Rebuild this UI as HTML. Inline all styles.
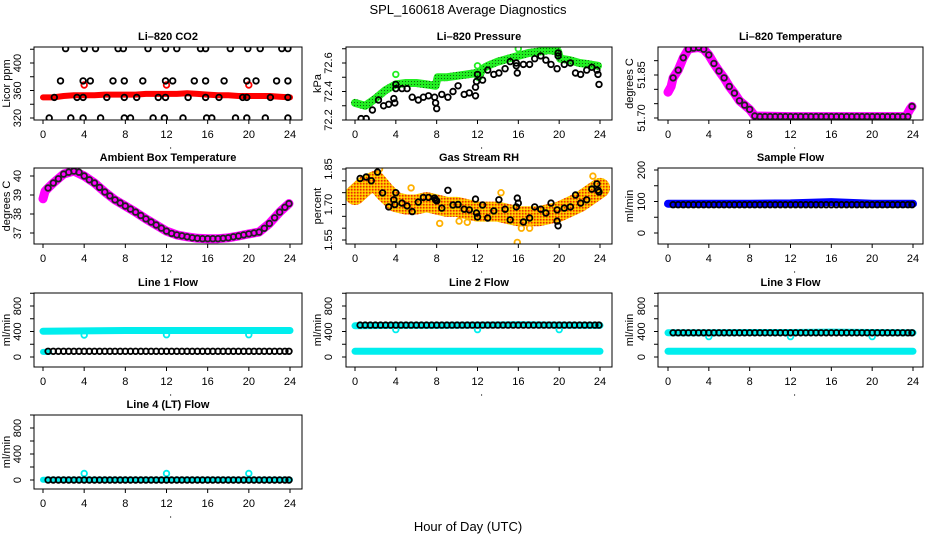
<!DOCTYPE html>
<html><head><meta charset="utf-8">
<style>
body{margin:0;background:#fff}
svg{display:block;font-family:"Liberation Sans",Arial,sans-serif}
</style></head>
<body>
<svg id="chart" width="936" height="540" viewBox="0 0 936 540">
<defs>
<pattern id="rhPat" width="3" height="3" patternUnits="userSpaceOnUse"><rect width="3" height="3" fill="#ffb000"/><rect width="1.5" height="1.5" fill="#e83000"/><rect x="1.5" y="1.5" width="1.5" height="1.5" fill="#ffe000"/></pattern>
<pattern id="prPat" width="3" height="3" patternUnits="userSpaceOnUse"><rect width="3" height="3" fill="#22ee22"/><rect width="1" height="1" fill="#116611"/></pattern>
</defs>
<text x="468" y="14" text-anchor="middle" font-size="13">SPL_160618  Average Diagnostics</text>
<text x="468" y="531" text-anchor="middle" font-size="13">Hour of Day (UTC)</text>
</svg>
<script>
// ---------- data ----------
const halfX = [0.5,1,1.5,2,2.5,3,3.5,4,4.5,5,5.5,6,6.5,7,7.5,8,8.5,9,9.5,10,10.5,11,11.5,12,12.5,13,13.5,14,14.5,15,15.5,16,16.5,17,17.5,18,18.5,19,19.5,20,20.5,21,21.5,22,22.5,23,23.5,23.9];
const xTicks = [0,4,8,12,16,20,24];

// CO2
const co2RedX = [0,1,2,3,4,5,6,7,8,9,10,11,12,13,14,15,16,17,18,19,20,21,22,23,24];
const co2RedY = [350,350,352,353,353,353,354,354,354,354,355,355,355,355,356,355,354,353,353,352,352,352,352,351,350];
const co2RedOutX = [4,12,20];
const co2RedOutY = [368,368,368];
const co2BlkX = [2.2,4,5.1,7.3,7.8,10.2,11.9,13,15.3,15.8,18.2,19.9,21.1,23.2,23.8, 1.7,3.9,4.6,6.8,7.9,9.7,11.9,12.6,14.7,15.8,17.6,19.8,20.7,22.7,23.8, 1.1,3.3,3.9,6.2,7.9,9.1,11.2,11.9,14.1,15.8,17.1,19.4,19.8,22.1,23.8, 0.6,2.7,3.9,5.6,7.9,8.5,10.7,11.8,13.6,15.9,16.4,18.7,19.8,21.6,23.8];
const co2BlkY = [421,421,421,421,421,421,421,421,421,421,421,421,421,421,421, 374,374,374,374,374,374,374,374,374,374,374,374,374,374,374, 350,350,350,350,350,350,350,350,350,350,350,350,350,350,350, 320,320,320,320,320,320,320,320,320,320,320,320,320,320,320];

// Pressure
const prBandX = [0,1,2,3,4,5,6,7,7.9,8.1,9,10,11,11.9,12.1,12.5,13,14,15,16,17,18,19,19.9,20.1,21,22,23,23.8];
const prBandY = [72.32,72.30,72.35,72.41,72.45,72.46,72.46,72.45,72.44,72.50,72.50,72.51,72.52,72.53,72.50,72.56,72.58,72.61,72.63,72.65,72.67,72.68,72.69,72.68,72.63,72.62,72.60,72.59,72.58];
const prOutX = [4,12,16,20];
const prOutY = [72.52,72.58,72.70,72.73];
const prBlkX = [0.6,1.1,1.7,2.3,2.8,3.3,3.8,3.9,4,4,4.6,5.1,5.6,6.2,6.7,7.2,7.8,7.9,8,8.5,9.1,9.6,10.1,10.7,11.2,11.8,11.8,11.9,12.0,12.5,13,13.6,14.1,14.7,15.2,15.8,15.8,15.9,16.5,17.1,17.6,18.2,18.7,19.2,19.8,19.9,19.9,20.5,21.1,21.6,22.1,22.7,23.2,23.7,23.8,23.9];
const prBlkY = [72.21,72.21,72.27,72.34,72.30,72.31,72.35,72.32,72.45,72.42,72.42,72.42,72.36,72.34,72.36,72.37,72.36,72.32,72.28,72.38,72.36,72.40,72.44,72.38,72.39,72.37,72.43,72.47,72.52,72.48,72.55,72.52,72.53,72.56,72.61,72.60,72.58,72.53,72.59,72.59,72.63,72.65,72.62,72.59,72.56,72.65,72.67,72.59,72.60,72.53,72.52,72.55,72.57,72.55,72.52,72.45];

// Li-820 temperature
const tBandX = [0,0.3,0.5,1,1.5,2,2.5,3,3.5,4,4.5,5,5.5,6,6.5,7,7.5,8,8.5,12,16,20,23.3,23.7,23.9];
const tBandY = [51.79,51.81,51.84,51.867,51.91,51.94,51.944,51.946,51.94,51.92,51.89,51.864,51.84,51.81,51.787,51.76,51.745,51.73,51.707,51.705,51.705,51.705,51.705,51.73,51.74];
const tBlkY = [51.84,51.867,51.91,51.94,51.944,51.946,51.94,51.92,51.89,51.864,51.84,51.81,51.787,51.76,51.745,51.73,51.707,51.705,51.705,51.705,51.705,51.705,51.705,51.705,51.705,51.705,51.705,51.705,51.705,51.705,51.705,51.705,51.705,51.705,51.705,51.705,51.705,51.705,51.705,51.705,51.705,51.705,51.705,51.705,51.705,51.705,51.705,51.74];

// Ambient
const aBandX = [0,0.2,0.5,1,2,3,4,5,6,7,8,9,10,11,12,13,14,15,16,17,18,19,20,21,22,23,23.9];
const aBandY = [38.8,39.2,39.37,39.63,40.1,40.26,40.0,39.63,39.16,38.74,38.42,38.1,37.74,37.42,37.1,36.9,36.8,36.72,36.7,36.7,36.75,36.84,36.95,37.05,37.5,38.1,38.55];
const aBlkY = [39.37,39.63,39.85,40.1,40.2,40.26,40.2,40.0,39.8,39.63,39.4,39.16,38.95,38.74,38.58,38.42,38.26,38.1,37.92,37.74,37.58,37.42,37.26,37.1,36.98,36.9,36.85,36.8,36.75,36.72,36.7,36.7,36.7,36.7,36.72,36.75,36.8,36.84,36.9,36.95,37.0,37.05,37.25,37.5,37.8,38.1,38.35,38.55];

// RH
const rhBandX = [0,1,2,3,4,5,6,7,8,9,10,11,12,13,14,15,16,17,18,19,20,21,22,23,24];
const rhBandY = [1.74,1.78,1.80,1.75,1.71,1.70,1.70,1.71,1.70,1.69,1.69,1.68,1.67,1.67,1.67,1.66,1.65,1.65,1.65,1.66,1.67,1.69,1.71,1.74,1.77];
const rhOutX = [5.5,8.3,15.9,16.3,17.1,23.3,14.3,10.2,11,2.4];
const rhOutY = [1.77,1.62,1.54,1.60,1.60,1.82,1.75,1.63,1.625,1.85];
const rhBlkX = [0.5,1.1,1.6,2.2,2.7,3.3,3.8,3.9,4,4.6,5.1,5.6,6.2,6.7,7.2,7.8,7.9,8,8.5,9.1,9.6,10.1,10.7,11.2,11.8,11.9,12,12.5,13,13.6,14.1,14.7,15.2,15.8,15.9,16,16.5,17.1,17.6,18.2,18.7,19.2,19.8,19.8,19.9,20.5,21.1,21.6,22.1,22.7,23.2,23.7,23.8,23.9];
const rhBlkY = [1.81,1.816,1.80,1.837,1.749,1.69,1.72,1.70,1.75,1.706,1.694,1.67,1.71,1.73,1.73,1.727,1.72,1.715,1.685,1.76,1.698,1.70,1.68,1.677,1.723,1.664,1.647,1.698,1.643,1.673,1.72,1.68,1.635,1.69,1.727,1.706,1.626,1.643,1.69,1.68,1.664,1.706,1.677,1.63,1.61,1.685,1.69,1.74,1.706,1.72,1.765,1.787,1.76,1.753];

// Flows
const fBandX = [0,4,8,12,16,20,24];
const sfBandY = [93,93,93,94,98,93,93];
const sfBlkY = [90,90,90,90,90,90,90,90,90,90,90,90,90,90,90,90,90,90,90,90,90,90,90,90,90,90,90,90,90,90,90,90,90,90,90,90,90,90,90,90,90,90,90,90,90,90,90,90];
const l1UpY = [405,410,415,415,415,415,415];
const l1LowY = [80,80,80,80,80,80,80];
const l1BlkY = [90,90,90,90,90,90,90,90,90,90,90,90,90,90,90,90,90,90,90,90,90,90,90,90,90,90,90,90,90,90,90,90,90,90,90,90,90,90,90,90,90,90,90,90,90,90,90,90];
const l2UpY = [490,495,495,500,505,500,495];
const l2LowY = [90,90,90,90,90,90,90];
const l2BlkY = [500,500,500,500,500,500,500,500,500,500,500,500,500,500,500,500,500,500,500,500,500,500,500,500,500,500,500,500,500,500,500,500,500,500,500,500,500,500,500,500,500,500,500,500,500,500,500,500];
const l3UpY = [380,380,385,385,390,385,380];
const l3LowY = [90,90,90,90,90,90,90];
const l3BlkY = [380,380,380,380,380,380,380,380,380,380,380,380,380,380,380,380,380,380,380,380,380,380,380,380,380,380,380,380,380,380,380,380,380,380,380,380,380,380,380,380,380,380,380,380,380,380,380,380];
const l4UpY = [5,5,5,5,5,5,5];
const l4BlkY = [0,0,0,0,0,0,0,0,0,0,0,0,0,0,0,0,0,0,0,0,0,0,0,0,0,0,0,0,0,0,0,0,0,0,0,0,0,0,0,0,0,0,0,0,0,0,0,0];
const dipX = [4,12,20];
const l1DipY = [345,350,350];
const l2DipY = [430,430,430];
const l3DipY = [320,320,320];
const l4DipY = [100,100,100];

// ---------- rendering ----------
const svg = document.getElementById('chart');
const NS = 'http://www.w3.org/2000/svg';
function mk(tag, attrs, parent){
  const e = document.createElementNS(NS, tag);
  for (const k in attrs) e.setAttribute(k, attrs[k]);
  (parent||svg).appendChild(e);
  return e;
}
const cols = [{l:34,r:302,x0:43,x24:290,yl:10,tl:21},{l:346,r:612,x0:355,x24:600,yl:321,tl:332},{l:658,r:923,x0:668,x24:913,yl:633,tl:645}];
const rows = [{t:47,b:120},{t:168,b:244},{t:293,b:367},{t:415,b:489}];

function panel(p){
  const c = cols[p.col], rw = rows[p.row];
  const g = mk('g',{});
  
  
  const xs = v => c.x0 + (c.x24 - c.x0) * v / 24;
  const ys = v => p.ym[1] + (v - p.ym[0]) * (p.ym[3] - p.ym[1]) / (p.ym[2] - p.ym[0]);
  const clip = mk('clipPath',{id:'clip'+p.name}, g);
  mk('rect',{x:c.l,y:rw.t,width:c.r-c.l,height:rw.b-rw.t}, clip);
  const plot = mk('g',{'clip-path':'url(#clip'+p.name+')'}, g);
  
  
  p.series.forEach(s => {
    if (s.type === 'band'){
      const d = s.x.map((v,i)=>(i?'L':'M')+xs(v).toFixed(1)+','+ys(s.y[i]).toFixed(1)).join('');
      const e = mk('path',{d:d,fill:'none',stroke:s.color,'stroke-width':s.w,'stroke-linejoin':'round','stroke-linecap':'round'}, plot);
      
      
    } else {
      const sg = mk('g',{}, plot);
      
      
      s.x.forEach((v,i)=>{
        const e = mk('circle',{cx:xs(v).toFixed(1),cy:ys(s.y[i]).toFixed(1),r:s.r||2.8,fill:'none',stroke:s.color,'stroke-width':s.sw||1.8}, sg);
        
        
      });
    }
  });
  const box = mk('rect',{x:c.l,y:rw.t,width:c.r-c.l,height:rw.b-rw.t,fill:'none',stroke:'#000','stroke-width':1}, g);
  
  
  const t = mk('text',{x:(c.l+c.r)/2,y:rw.t-7,'text-anchor':'middle','font-size':11,'font-weight':'bold'}, g);
  t.textContent = p.title;
  
  
  const xa = mk('g',{}, g);
  
  
  mk('line',{x1:xs(0),x2:xs(24),y1:rw.b,y2:rw.b,stroke:'#000'}, xa);
  xTicks.forEach(v=>{
    mk('line',{x1:xs(v),x2:xs(v),y1:rw.b,y2:rw.b+4,stroke:'#000'}, xa);
    const tx = mk('text',{x:xs(v),y:rw.b+18,'text-anchor':'middle','font-size':11}, xa);
    tx.textContent = v;
    
    
  });
  mk('circle',{cx:xs(12.4),cy:rw.b+28,r:0.6,fill:'#000'}, xa);
  const ya = mk('g',{}, g);
  
  
  mk('line',{x1:c.l,x2:c.l,y1:ys(p.yt[0]),y2:ys(p.yt[p.yt.length-1]),stroke:'#000'}, ya);
  p.yt.forEach(v=>{
    mk('line',{x1:c.l-4,x2:c.l,y1:ys(v),y2:ys(v),stroke:'#000'}, ya);
  });
  p.yl.forEach(v=>{
    const y = ys(v);
    const tx = mk('text',{x:c.tl,y:y,'text-anchor':'middle','font-size':11,transform:'rotate(-90 '+c.tl+' '+y+')'}, ya);
    tx.textContent = p.fmt ? v.toFixed(p.fmt) : v;
    
    
  });
  const cy = (rw.t+rw.b)/2;
  const yt = mk('text',{x:c.yl,y:cy,'text-anchor':'middle','font-size':11,transform:'rotate(-90 '+c.yl+' '+cy+')'}, g);
  yt.textContent = p.ylab;
  
  
}

const K='#000', CY='#00eeee';
panel({name:'co2-panel',col:0,row:0,title:'Li\u2013820 CO2',ylab:'Licor ppm',ym:[320,118,400,63],yt:[320,340,360,380,400,420],yl:[320,360,400],series:[
  {type:'band',name:'co2-red-band',x:co2RedX,y:co2RedY,color:'#ff0000',w:6},
  {type:'pts',name:'co2-red-outliers',x:co2RedOutX,y:co2RedOutY,color:'#ff0000'},
  {type:'pts',name:'co2-black-points',x:co2BlkX,y:co2BlkY,color:K}]});
panel({name:'pressure-panel',col:1,row:0,title:'Li\u2013820 Pressure',ylab:'kPa',ym:[72.2,120,72.6,63],yt:[72.2,72.3,72.4,72.5,72.6,72.7],yl:[72.2,72.4,72.6],fmt:1,series:[
  {type:'band',name:'pressure-green-band',x:prBandX,y:prBandY,color:'url(#prPat)',w:8},
  {type:'pts',name:'pressure-green-outliers',x:prOutX,y:prOutY,color:'#22ee22'},
  {type:'pts',name:'pressure-black-points',x:prBlkX,y:prBlkY,color:K}]});
panel({name:'temperature-panel',col:2,row:0,title:'Li\u2013820 Temperature',ylab:'degrees C',ym:[51.70,118,51.85,75],yt:[51.70,51.75,51.80,51.85,51.90],yl:[51.70,51.85],fmt:2,series:[
  {type:'band',name:'temperature-magenta-band',x:tBandX,y:tBandY,color:'#ff00ff',w:9},
  {type:'pts',name:'temperature-black-points',x:halfX,y:tBlkY,color:'#222'}]});
panel({name:'ambient-panel',col:0,row:1,title:'Ambient Box Temperature',ylab:'degrees C',ym:[37,233,40,176],yt:[37,38,39,40],yl:[37,38,39,40],series:[
  {type:'band',name:'ambient-magenta-band',x:aBandX,y:aBandY,color:'#ff00ff',w:9},
  {type:'pts',name:'ambient-black-points',x:halfX,y:aBlkY,color:'#222'}]});
panel({name:'rh-panel',col:1,row:1,title:'Gas Stream RH',ylab:'percent',ym:[1.55,240,1.85,169],yt:[1.55,1.60,1.65,1.70,1.75,1.80,1.85],yl:[1.55,1.70,1.85],fmt:2,series:[
  {type:'band',name:'rh-orange-band',x:rhBandX,y:rhBandY,color:'url(#rhPat)',w:20},
  {type:'pts',name:'rh-orange-outliers',x:rhOutX,y:rhOutY,color:'#ffb000'},
  {type:'pts',name:'rh-black-points',x:rhBlkX,y:rhBlkY,color:K}]});
panel({name:'sample-flow-panel',col:2,row:1,title:'Sample Flow',ylab:'ml/min',ym:[0,233,200,170],yt:[0,50,100,150,200],yl:[0,100,200],series:[
  {type:'band',name:'sample-flow-blue-band',x:fBandX,y:sfBandY,color:'#0000ff',w:8},
  {type:'pts',name:'sample-flow-black-points',x:halfX,y:sfBlkY,color:K}]});
const flowTicks=[0,200,400,600,800,1000], flowLabels=[0,400,800];
panel({name:'line1-flow-panel',col:0,row:2,title:'Line 1 Flow',ylab:'ml/min',ym:[0,357,800,306],yt:flowTicks,yl:flowLabels,series:[
  {type:'band',name:'line1-cyan-upper',x:fBandX,y:l1UpY,color:CY,w:7},
  {type:'band',name:'line1-cyan-lower',x:[0,0.6],y:l1LowY.slice(0,2),color:CY,w:6},
  {type:'pts',name:'line1-cyan-dips',x:dipX,y:l1DipY,color:CY},
  {type:'pts',name:'line1-black-points',x:halfX,y:l1BlkY,color:K}]});
panel({name:'line2-flow-panel',col:1,row:2,title:'Line 2 Flow',ylab:'ml/min',ym:[0,357,800,306],yt:flowTicks,yl:flowLabels,series:[
  {type:'band',name:'line2-cyan-upper',x:fBandX,y:l2UpY,color:CY,w:7},
  {type:'band',name:'line2-cyan-lower',x:fBandX,y:l2LowY,color:CY,w:7},
  {type:'pts',name:'line2-cyan-dips',x:dipX,y:l2DipY,color:CY},
  {type:'pts',name:'line2-black-points',x:halfX,y:l2BlkY,color:K}]});
panel({name:'line3-flow-panel',col:2,row:2,title:'Line 3 Flow',ylab:'ml/min',ym:[0,357,800,306],yt:flowTicks,yl:flowLabels,series:[
  {type:'band',name:'line3-cyan-upper',x:fBandX,y:l3UpY,color:CY,w:7},
  {type:'band',name:'line3-cyan-lower',x:fBandX,y:l3LowY,color:CY,w:7},
  {type:'pts',name:'line3-cyan-dips',x:dipX,y:l3DipY,color:CY},
  {type:'pts',name:'line3-black-points',x:halfX,y:l3BlkY,color:K}]});
panel({name:'line4-flow-panel',col:0,row:3,title:'Line 4 (LT) Flow',ylab:'ml/min',ym:[0,480,800,428],yt:flowTicks,yl:flowLabels,series:[
  {type:'band',name:'line4-cyan-band',x:fBandX,y:l4UpY,color:CY,w:6},
  {type:'pts',name:'line4-cyan-dips',x:dipX,y:l4DipY,color:CY},
  {type:'pts',name:'line4-black-points',x:halfX,y:l4BlkY,color:K}]});
</script>
</body></html>
